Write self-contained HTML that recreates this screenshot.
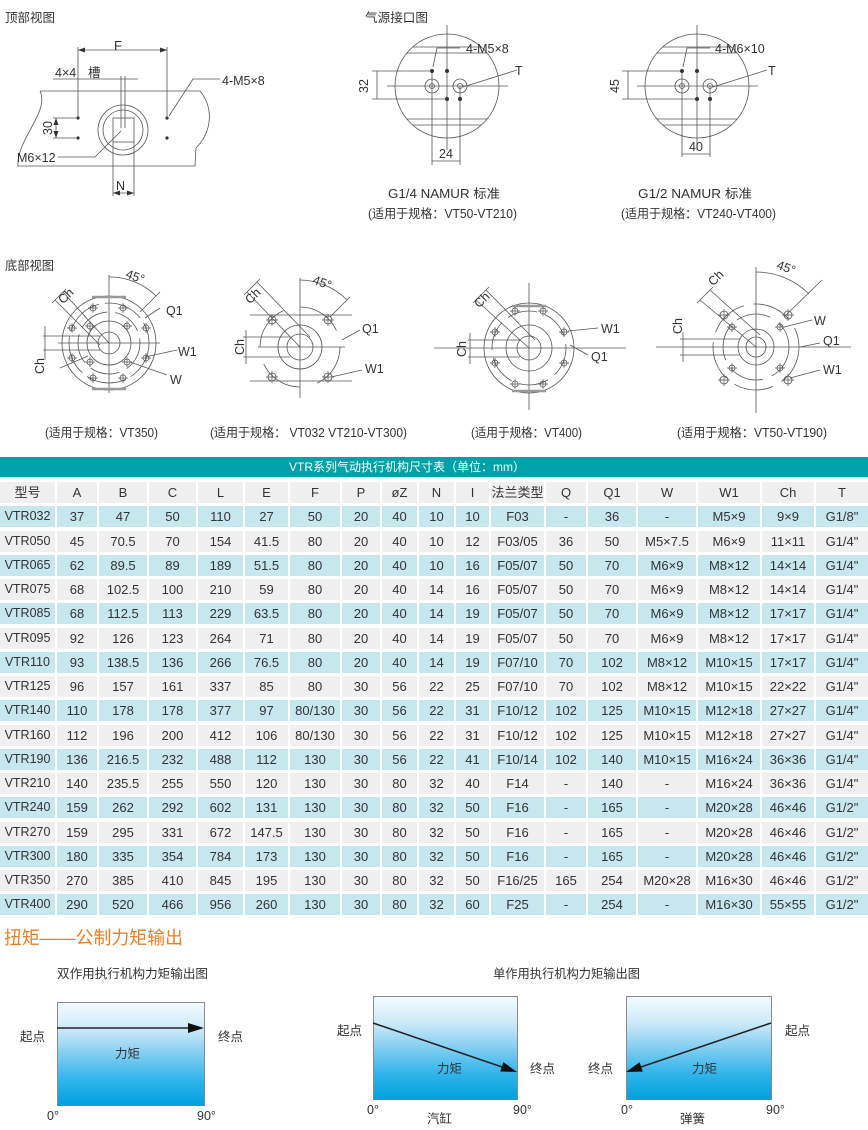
<!DOCTYPE html>
<html><head><meta charset="utf-8">
<style>
body{margin:0;width:868px;height:1130px;background:#fff;position:relative;overflow:hidden;font-family:"Liberation Sans","Noto Sans CJK SC",sans-serif;color:#333}
svg{position:absolute;left:0;top:0}
.bar{position:absolute;left:0;top:457px;width:868px;height:20px;background:#00a1a9;color:#fff;font-size:12px;line-height:20px}
.bar span{position:absolute;left:289px;top:0;white-space:nowrap}
.grid{position:absolute;left:0;top:482px;width:868px;display:grid;grid-template-columns:55px 40px 48px 47px 45px 43px 50px 38px 35px 35px 33px 53px 40px 48px 58px 62px 52px 52px;grid-auto-rows:21px;column-gap:2px;row-gap:3.25px}
.r{display:contents}
.r>div{background:#efefef;font-size:13px;line-height:21px;text-align:center;white-space:nowrap;overflow:hidden;color:#333}
.r.c>div{background:#c7e7ee}
.r>div:first-child{font-size:12.5px}
.r.h>div:first-child{font-size:13px}
.box{position:absolute;border:1px solid #8a8a8a;border-bottom:none;background:linear-gradient(to bottom,#f4fbfe 0%,#cdeaf8 25%,#80cdf1 50%,#2fb4ea 75%,#00a0e0 100%)}
</style></head><body>

<div class="bar"><span>VTR系列气动执行机构尺寸表（单位：mm）</span></div>

<div class="grid">
<div class="r h"><div>型号</div><div>A</div><div>B</div><div>C</div><div>L</div><div>E</div><div>F</div><div>P</div><div>øZ</div><div>N</div><div>I</div><div>法兰类型</div><div>Q</div><div>Q1</div><div>W</div><div>W1</div><div>Ch</div><div>T</div></div>
<div class="r c"><div>VTR032</div><div>37</div><div>47</div><div>50</div><div>110</div><div>27</div><div>50</div><div>20</div><div>40</div><div>10</div><div>10</div><div>F03</div><div>-</div><div>36</div><div>-</div><div>M5×9</div><div>9×9</div><div>G1/8"</div></div>
<div class="r"><div>VTR050</div><div>45</div><div>70.5</div><div>70</div><div>154</div><div>41.5</div><div>80</div><div>20</div><div>40</div><div>10</div><div>12</div><div>F03/05</div><div>36</div><div>50</div><div>M5×7.5</div><div>M6×9</div><div>11×11</div><div>G1/4"</div></div>
<div class="r c"><div>VTR065</div><div>62</div><div>89.5</div><div>89</div><div>189</div><div>51.5</div><div>80</div><div>20</div><div>40</div><div>10</div><div>16</div><div>F05/07</div><div>50</div><div>70</div><div>M6×9</div><div>M8×12</div><div>14×14</div><div>G1/4"</div></div>
<div class="r"><div>VTR075</div><div>68</div><div>102.5</div><div>100</div><div>210</div><div>59</div><div>80</div><div>20</div><div>40</div><div>14</div><div>16</div><div>F05/07</div><div>50</div><div>70</div><div>M6×9</div><div>M8×12</div><div>14×14</div><div>G1/4"</div></div>
<div class="r c"><div>VTR085</div><div>68</div><div>112.5</div><div>113</div><div>229</div><div>63.5</div><div>80</div><div>20</div><div>40</div><div>14</div><div>19</div><div>F05/07</div><div>50</div><div>70</div><div>M6×9</div><div>M8×12</div><div>17×17</div><div>G1/4"</div></div>
<div class="r"><div>VTR095</div><div>92</div><div>126</div><div>123</div><div>264</div><div>71</div><div>80</div><div>20</div><div>40</div><div>14</div><div>19</div><div>F05/07</div><div>50</div><div>70</div><div>M6×9</div><div>M8×12</div><div>17×17</div><div>G1/4"</div></div>
<div class="r c"><div>VTR110</div><div>93</div><div>138.5</div><div>136</div><div>266</div><div>76.5</div><div>80</div><div>20</div><div>40</div><div>14</div><div>19</div><div>F07/10</div><div>70</div><div>102</div><div>M8×12</div><div>M10×15</div><div>17×17</div><div>G1/4"</div></div>
<div class="r"><div>VTR125</div><div>96</div><div>157</div><div>161</div><div>337</div><div>85</div><div>80</div><div>30</div><div>56</div><div>22</div><div>25</div><div>F07/10</div><div>70</div><div>102</div><div>M8×12</div><div>M10×15</div><div>22×22</div><div>G1/4"</div></div>
<div class="r c"><div>VTR140</div><div>110</div><div>178</div><div>178</div><div>377</div><div>97</div><div>80/130</div><div>30</div><div>56</div><div>22</div><div>31</div><div>F10/12</div><div>102</div><div>125</div><div>M10×15</div><div>M12×18</div><div>27×27</div><div>G1/4"</div></div>
<div class="r"><div>VTR160</div><div>112</div><div>196</div><div>200</div><div>412</div><div>106</div><div>80/130</div><div>30</div><div>56</div><div>22</div><div>31</div><div>F10/12</div><div>102</div><div>125</div><div>M10×15</div><div>M12×18</div><div>27×27</div><div>G1/4"</div></div>
<div class="r c"><div>VTR190</div><div>136</div><div>216.5</div><div>232</div><div>488</div><div>112</div><div>130</div><div>30</div><div>56</div><div>22</div><div>41</div><div>F10/14</div><div>102</div><div>140</div><div>M10×15</div><div>M16×24</div><div>36×36</div><div>G1/4"</div></div>
<div class="r"><div>VTR210</div><div>140</div><div>235.5</div><div>255</div><div>550</div><div>120</div><div>130</div><div>30</div><div>80</div><div>32</div><div>40</div><div>F14</div><div>-</div><div>140</div><div>-</div><div>M16×24</div><div>36×36</div><div>G1/4"</div></div>
<div class="r c"><div>VTR240</div><div>159</div><div>262</div><div>292</div><div>602</div><div>131</div><div>130</div><div>30</div><div>80</div><div>32</div><div>50</div><div>F16</div><div>-</div><div>165</div><div>-</div><div>M20×28</div><div>46×46</div><div>G1/2"</div></div>
<div class="r"><div>VTR270</div><div>159</div><div>295</div><div>331</div><div>672</div><div>147.5</div><div>130</div><div>30</div><div>80</div><div>32</div><div>50</div><div>F16</div><div>-</div><div>165</div><div>-</div><div>M20×28</div><div>46×46</div><div>G1/2"</div></div>
<div class="r c"><div>VTR300</div><div>180</div><div>335</div><div>354</div><div>784</div><div>173</div><div>130</div><div>30</div><div>80</div><div>32</div><div>50</div><div>F16</div><div>-</div><div>165</div><div>-</div><div>M20×28</div><div>46×46</div><div>G1/2"</div></div>
<div class="r"><div>VTR350</div><div>270</div><div>385</div><div>410</div><div>845</div><div>195</div><div>130</div><div>30</div><div>80</div><div>32</div><div>50</div><div>F16/25</div><div>165</div><div>254</div><div>M20×28</div><div>M16×30</div><div>46×46</div><div>G1/2"</div></div>
<div class="r c"><div>VTR400</div><div>290</div><div>520</div><div>466</div><div>956</div><div>260</div><div>130</div><div>30</div><div>80</div><div>32</div><div>60</div><div>F25</div><div>-</div><div>254</div><div>-</div><div>M16×30</div><div>55×55</div><div>G1/2"</div></div>
</div>

<div class="box" style="left:57px;top:1002px;width:146px;height:103px"></div>
<div class="box" style="left:373px;top:996px;width:143px;height:103px"></div>
<div class="box" style="left:626px;top:996px;width:144px;height:103px"></div>

<svg width="868" height="1130" viewBox="0 0 868 1130" xmlns="http://www.w3.org/2000/svg" font-family="Liberation Sans, Noto Sans CJK SC, sans-serif">
<defs>
<g id="h"><circle r="3" fill="none" stroke="#555" stroke-width="0.8"/><path d="M-5 0H5M0-5V5" stroke="#555" stroke-width="0.7"/></g>
<g id="h4"><circle r="4" fill="none" stroke="#555" stroke-width="0.8"/><path d="M-6 0H6M0-6V6" stroke="#555" stroke-width="0.7"/></g>
</defs>

<g fill="#333" font-size="12.5">
<text x="5" y="22" textLength="50" lengthAdjust="spacingAndGlyphs">顶部视图</text>
<text x="365" y="22" textLength="63" lengthAdjust="spacingAndGlyphs">气源接口图</text>
<text x="5" y="270" textLength="49" lengthAdjust="spacingAndGlyphs">底部视图</text>
</g>

<!-- top view drawing -->
<g stroke="#555" stroke-width="0.8" fill="none">
<path d="M40 91 H200 C214 108 212 132 196 148 L195 166 H18 C16 140 50 112 40 91"/>
<path d="M78 47 V118 M167 47 V116 M78 50 H167"/>
<path d="M53 79 H138 M121 76 V128 M125 76 V128"/>
<circle cx="123" cy="130" r="25"/>
<circle cx="123" cy="130" r="20"/>
<rect x="113" y="118" width="21" height="24"/>
<path d="M58 157 H95 L121 131"/>
<path d="M220 79 H193 L169 116"/>
<path d="M53 118 H76 M53 138 H76 M56 118 V138"/>
<path d="M113 142 V196 M134 142 V196 M113 193 H134"/>
</g>
<g fill="#333">
<circle cx="78" cy="118" r="1.6"/><circle cx="78" cy="138" r="1.6"/><circle cx="167" cy="118" r="1.6"/><circle cx="167" cy="138" r="1.6"/>
<path d="M78 50 l7 -2.5 v5z M167 50 l-7 -2.5 v5z M113 193 l7 -2.5 v5z M134 193 l-7 -2.5 v5z M56 118 l-2.5 7 h5z M56 138 l-2.5 -7 h5z"/>
</g>
<g fill="#333" font-size="12.5">
<text x="114" y="50" font-size="13">F</text>
<text x="55" y="77">4×4</text>
<text x="88" y="77">槽</text>
<text x="222" y="85">4-M5×8</text>
<text x="52" y="128" text-anchor="middle" transform="rotate(-90 52 128)">30</text>
<text x="17" y="162">M6×12</text>
<text x="116" y="190">N</text>
</g>

<!-- air port drawings -->
<g stroke="#555" stroke-width="0.8" fill="none">
<circle cx="447" cy="86" r="52"/>
<path d="M413 47 H481 M407 53 H487 M407 119 H487 M413 125 H481"/>
<path d="M447 25 V150 M387 86 H508 M432 71 V165 M460 86 V165"/>
<circle cx="432" cy="86" r="7"/><circle cx="460" cy="86" r="7"/>
<circle cx="432" cy="86" r="2.5"/><circle cx="460" cy="86" r="2.5"/>
<path d="M372 71 H430 M372 99 H445 M377 71 V99 M432 161 H460"/>
<path d="M460 48 H437 L433 67 M517 70 L463 87"/>

<circle cx="697" cy="86" r="52"/>
<path d="M663 47 H731 M657 53 H737 M657 119 H737 M663 125 H731"/>
<path d="M697 25 V150 M637 86 H758 M682 71 V157 M710 86 V157"/>
<circle cx="682" cy="86" r="7"/><circle cx="710" cy="86" r="7"/>
<circle cx="682" cy="86" r="2.5"/><circle cx="710" cy="86" r="2.5"/>
<path d="M622 71 H680 M622 99 H695 M628 71 V99 M682 154 H710"/>
<path d="M710 48 H687 L683 67 M767 70 L713 87"/>
</g>
<g fill="#333">
<circle cx="432" cy="71" r="2"/><circle cx="447" cy="71" r="2"/><circle cx="447" cy="99" r="2"/><circle cx="460" cy="99" r="2"/>
<circle cx="682" cy="71" r="2"/><circle cx="697" cy="71" r="2"/><circle cx="697" cy="99" r="2"/><circle cx="710" cy="99" r="2"/>
</g>
<g fill="#333" font-size="12.5">
<text x="466" y="53">4-M5×8</text>
<text x="515" y="75">T</text>
<text x="368" y="86" text-anchor="middle" transform="rotate(-90 368 86)">32</text>
<text x="439" y="158">24</text>
<text x="715" y="53">4-M6×10</text>
<text x="768" y="75">T</text>
<text x="619" y="86" text-anchor="middle" transform="rotate(-90 619 86)">45</text>
<text x="689" y="151">40</text>
<text x="388" y="198" textLength="112" lengthAdjust="spacingAndGlyphs">G1/4 NAMUR 标准</text>
<text x="368" y="218" textLength="149" lengthAdjust="spacingAndGlyphs">(适用于规格：VT50-VT210)</text>
<text x="638" y="198" textLength="114" lengthAdjust="spacingAndGlyphs">G1/2 NAMUR  标准</text>
<text x="621" y="218" textLength="155" lengthAdjust="spacingAndGlyphs">(适用于规格：VT240-VT400)</text>
</g>

<!-- bottom views -->
<g stroke="#555" stroke-width="0.8" fill="none">
<circle cx="109" cy="343" r="47"/>
<circle cx="109" cy="343" r="40" stroke-dasharray="40 6"/>
<circle cx="109" cy="343" r="31" stroke-dasharray="30 8"/>
<circle cx="109" cy="343" r="22"/>
<circle cx="109" cy="343" r="11"/>
<path d="M109 275 V393 M58 343 H160 M43 336 H100 M43 350 H100 M45 326 V360"/>
<path d="M109 277 A66 66 0 0 1 156 296 M140 312 L160 292"/>
<path d="M63 292 L109 343 M55 300 L100 345 M52 303 L66 289"/>
<path d="M160 308 L145 318 M177 350 L145 357 M167 375 L130 362 M60 368 L88 356"/>
<path d="M92 297 H126 M92 389 H126" stroke="#999" stroke-width="2.5"/>
<circle cx="300" cy="347" r="40" stroke-dasharray="45 18"/>
<circle cx="300" cy="347" r="22"/>
<circle cx="300" cy="347" r="13"/>
<path d="M300 278 V398 M250 315 H352 M250 381 H352 M258 347 H345 M243 337 H290 M243 357 H290 M246 330 V364"/>
<path d="M300 280 A67 67 0 0 1 347 300 M330 317 L350 297"/>
<path d="M247 292 L300 347 M257 282 L310 337 M244 295 L260 279"/>
<path d="M360 330 L342 340 M362 370 L331 377"/>
<circle cx="529" cy="348" r="45"/>
<circle cx="529" cy="348" r="37" stroke-dasharray="30 8"/>
<circle cx="529" cy="348" r="23"/>
<circle cx="529" cy="348" r="12"/>
<path d="M434 348 H626 M529 283 V410 M468 340 H520 M468 357 H520 M470 333 V364"/>
<path d="M476 300 L529 348 M486 290 L535 340 M473 303 L489 287"/>
<path d="M598 328 L568 331 M588 355 L570 345"/>
<path d="M512 306 H546 M512 391 H546" stroke="#999" stroke-width="2.5"/>
<circle cx="756" cy="347" r="43" stroke-dasharray="40 10"/>
<circle cx="756" cy="347" r="33" stroke-dasharray="35 10"/>
<circle cx="756" cy="347" r="18"/>
<circle cx="756" cy="347" r="10"/>
<path d="M656 347 H851 M756 267 V413 M680 339 H740 M680 355 H740 M683 332 V362"/>
<path d="M756 272 A75 75 0 0 1 809 294 M784 317 L822 280"/>
<path d="M700 300 L756 347 M710 290 L760 335 M697 303 L713 287"/>
<path d="M812 320 L784 327 M820 343 L800 347 M820 370 L790 378"/>
</g>
<g>
<use href="#h" x="93" y="308"/><use href="#h" x="123" y="308"/><use href="#h" x="72" y="328"/><use href="#h" x="146" y="328"/>
<use href="#h" x="72" y="358"/><use href="#h" x="146" y="358"/><use href="#h" x="93" y="378"/><use href="#h" x="123" y="378"/>
<use href="#h" x="90" y="326"/><use href="#h" x="127" y="326"/><use href="#h" x="90" y="362"/><use href="#h" x="127" y="362"/>
<use href="#h4" x="272" y="320"/><use href="#h4" x="328" y="320"/><use href="#h4" x="272" y="377"/><use href="#h4" x="328" y="377"/>
<use href="#h" x="515" y="311"/><use href="#h" x="543" y="311"/><use href="#h" x="495" y="332"/><use href="#h" x="564" y="332"/>
<use href="#h" x="495" y="363"/><use href="#h" x="564" y="363"/><use href="#h" x="515" y="384"/><use href="#h" x="543" y="384"/>
<use href="#h4" x="724" y="315"/><use href="#h4" x="788" y="315"/><use href="#h4" x="724" y="380"/><use href="#h4" x="788" y="380"/>
<use href="#h" x="732" y="327"/><use href="#h" x="780" y="327"/><use href="#h" x="732" y="368"/><use href="#h" x="780" y="368"/>
</g>
<g fill="#333" font-size="12.5">
<text x="126" y="281" transform="rotate(20 136 276)">45°</text>
<text x="66" y="300" text-anchor="middle" transform="rotate(-45 66 296)">Ch</text>
<text x="44" y="366" text-anchor="middle" transform="rotate(-90 44 366)">Ch</text>
<text x="166" y="315">Q1</text>
<text x="178" y="356">W1</text>
<text x="170" y="384">W</text>
<text x="45" y="437" textLength="113" lengthAdjust="spacingAndGlyphs">(适用于规格：VT350)</text>

<text x="313" y="287" transform="rotate(20 323 282)">45°</text>
<text x="253" y="300" text-anchor="middle" transform="rotate(-45 253 296)">Ch</text>
<text x="244" y="347" text-anchor="middle" transform="rotate(-90 244 347)">Ch</text>
<text x="362" y="333">Q1</text>
<text x="365" y="373">W1</text>
<text x="210" y="437" textLength="197" lengthAdjust="spacingAndGlyphs">(适用于规格： VT032 VT210-VT300)</text>

<text x="482" y="304" text-anchor="middle" transform="rotate(-45 482 300)">Ch</text>
<text x="466" y="349" text-anchor="middle" transform="rotate(-90 466 349)">Ch</text>
<text x="601" y="333">W1</text>
<text x="591" y="361">Q1</text>
<text x="471" y="437" textLength="111" lengthAdjust="spacingAndGlyphs">(适用于规格：VT400)</text>

<text x="777" y="272" transform="rotate(20 787 267)">45°</text>
<text x="716" y="282" text-anchor="middle" transform="rotate(-45 716 278)">Ch</text>
<text x="682" y="326" text-anchor="middle" transform="rotate(-90 682 326)">Ch</text>
<text x="814" y="325">W</text>
<text x="823" y="345">Q1</text>
<text x="823" y="374">W1</text>
<text x="677" y="437" textLength="150" lengthAdjust="spacingAndGlyphs">(适用于规格：VT50-VT190)</text>
</g>

<!-- torque section -->
<text x="4" y="944" fill="#f07c1e" font-size="18" textLength="179" lengthAdjust="spacingAndGlyphs">扭矩——公制力矩输出</text>
<g fill="#333" font-size="12.5">
<text x="57" y="978" textLength="151" lengthAdjust="spacingAndGlyphs">双作用执行机构力矩输出图</text>
<text x="493" y="978" textLength="147" lengthAdjust="spacingAndGlyphs">单作用执行机构力矩输出图</text>
<text x="20" y="1041">起点</text>
<text x="218" y="1041">终点</text>
<text x="115" y="1058">力矩</text>
<text x="47" y="1120">0°</text>
<text x="197" y="1120">90°</text>

<text x="337" y="1035">起点</text>
<text x="530" y="1073">终点</text>
<text x="437" y="1073">力矩</text>
<text x="367" y="1114">0°</text>
<text x="513" y="1114">90°</text>
<text x="427" y="1123">汽缸</text>

<text x="785" y="1035">起点</text>
<text x="588" y="1073">终点</text>
<text x="692" y="1073">力矩</text>
<text x="621" y="1114">0°</text>
<text x="766" y="1114">90°</text>
<text x="680" y="1123">弹簧</text>
</g>
<g stroke="#222" stroke-width="1.5" fill="#111">
<path d="M57 1028 H192" fill="none"/>
<path d="M204 1028 L188 1023 L188 1033 Z" stroke="none"/>
<path d="M373 1023 L505 1068" fill="none"/>
<path d="M517 1072 L503.4 1062.1 L500.2 1071.5 Z" stroke="none"/>
<path d="M771 1023 L638 1068" fill="none"/>
<path d="M626 1072 L639.6 1062.2 L642.8 1071.6 Z" stroke="none"/>
</g>
</svg>
</body></html>
